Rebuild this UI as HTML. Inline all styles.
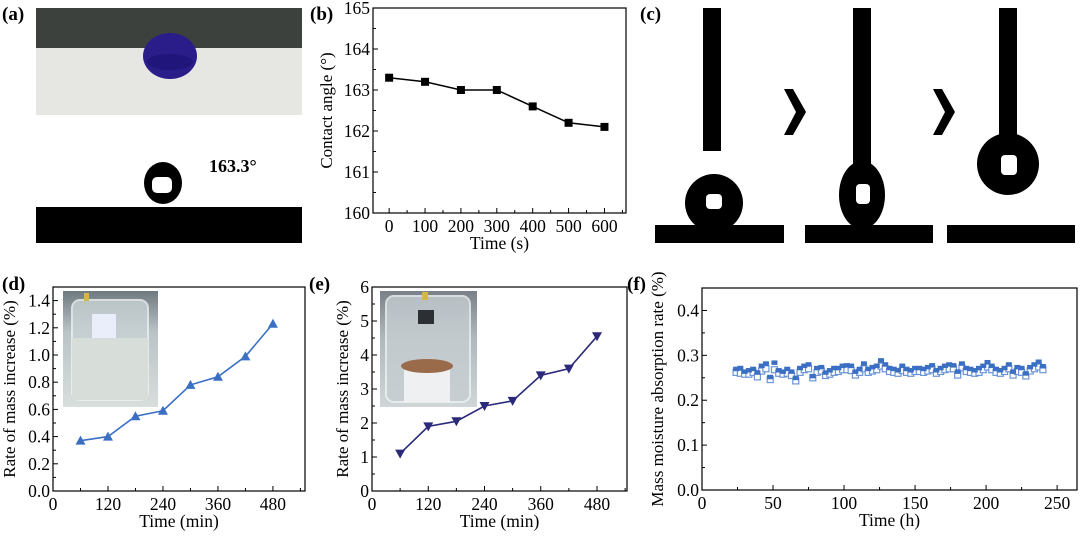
<!DOCTYPE html>
<html><head><meta charset="utf-8"><style>
html,body{margin:0;padding:0;background:#fff;}
body{width:1080px;height:536px;position:relative;overflow:hidden;font-family:"Liberation Serif",serif;}
svg{position:absolute;left:0;top:0;}
</style></head><body>
<svg id="fig" width="1080" height="536" viewBox="0 0 1080 536" xmlns="http://www.w3.org/2000/svg" font-family="Liberation Serif, serif">
  <defs>
    <linearGradient id="beakerD" x1="0" y1="0" x2="0" y2="1">
      <stop offset="0" stop-color="#6f7a80"/><stop offset="0.35" stop-color="#b9c3c6"/><stop offset="1" stop-color="#d8dedc"/>
    </linearGradient>
    <linearGradient id="beakerE" x1="0" y1="0" x2="0" y2="1">
      <stop offset="0" stop-color="#7a8088"/><stop offset="0.4" stop-color="#aeb8bd"/><stop offset="1" stop-color="#d0d6d8"/>
    </linearGradient>
  </defs>
  <g>
    <text x="2" y="20" font-size="19" font-weight="bold">(a)</text>
    <rect x="36" y="8" width="266" height="107" fill="#e6e6e3"/>
    <rect x="36" y="8" width="266" height="40" fill="#3d413e"/>
    <ellipse cx="170" cy="56" rx="27" ry="23" fill="#2a1d8a"/>
    <ellipse cx="170" cy="62" rx="23" ry="8" fill="#1b1070" opacity="0.6"/>
    <rect x="36" y="207" width="266" height="36" fill="#000"/>
    <ellipse cx="163" cy="183" rx="19" ry="21" fill="#000"/>
    <rect x="152" y="177" width="20" height="16" rx="5" fill="#fff"/>
    <text x="209" y="172" font-size="18" font-weight="bold">163.3°</text>
  </g>
  <g>
    <text x="640" y="20" font-size="19" font-weight="bold">(c)</text>
    <rect x="703" y="8" width="18" height="143" fill="#000"/>
    <ellipse cx="714" cy="203" rx="29" ry="29" fill="#000"/>
    <rect x="706" y="194" width="16" height="15" rx="4" fill="#fff"/>
    <rect x="655" y="225" width="129" height="18" fill="#000"/>
    <polygon points="784,89 793,89 806,112 793,135 784,135 796,112" fill="#000"/>
    <rect x="853" y="8" width="18" height="160" fill="#000"/>
    <ellipse cx="862" cy="195" rx="23" ry="34" fill="#000"/>
    <rect x="856" y="184" width="14" height="20" rx="4" fill="#fff"/>
    <rect x="805" y="225" width="128" height="18" fill="#000"/>
    <polygon points="933,89 942,89 955,112 942,135 933,135 945,112" fill="#000"/>
    <rect x="999" y="8" width="18" height="130" fill="#000"/>
    <ellipse cx="1008" cy="164" rx="31" ry="31" fill="#000"/>
    <rect x="1001" y="155" width="16" height="20" rx="4" fill="#fff"/>
    <rect x="947" y="225" width="128" height="18" fill="#000"/>
  </g>
  <text x="2" y="290" font-size="19" font-weight="bold">(d)</text>
  <text x="309" y="290" font-size="19" font-weight="bold">(e)</text>
  <text x="627" y="290" font-size="19" font-weight="bold">(f)</text>
  <text x="310" y="20" font-size="19" font-weight="bold">(b)</text>
</svg>
<script>
// Panel b data
const bTimes = [0, 100, 200, 300, 400, 500, 600];
const bAngles = [163.3, 163.2, 163.0, 163.0, 162.6, 162.2, 162.1];
const bYTicks = [160, 161, 162, 163, 164, 165];
const bXTicks = [0, 100, 200, 300, 400, 500, 600];
// Panel d data
const dTimes = [60, 120, 180, 240, 300, 360, 420, 480];
const dRates = [0.37, 0.40, 0.55, 0.59, 0.78, 0.84, 0.99, 1.23];
const dYTicks = ["0.0", "0.2", "0.4", "0.6", "0.8", "1.0", "1.2", "1.4"];
const dXTicks = [0, 120, 240, 360, 480];
// Panel e data
const eTimes = [60, 120, 180, 240, 300, 360, 420, 480];
const eRates = [1.1, 1.9, 2.05, 2.5, 2.65, 3.4, 3.6, 4.55];
const eYTicks = [0, 1, 2, 3, 4, 5, 6];
const eXTicks = [0, 120, 240, 360, 480];
// Panel f data
const fHours = [24,27,30,33,36,39,42,45,48,51,54,57,60,63,66,69,72,75,78,81,84,87,90,93,96,99,102,105,108,111,114,117,120,123,126,129,132,135,138,141,144,147,150,153,156,159,162,165,168,171,174,177,180,183,186,189,192,195,198,201,204,207,210,213,216,219,222,225,228,231,234,237,240];
const fFilled = [0.268,0.270,0.262,0.265,0.268,0.260,0.275,0.280,0.250,0.282,0.265,0.262,0.268,0.262,0.248,0.270,0.275,0.278,0.252,0.270,0.272,0.260,0.265,0.270,0.270,0.275,0.276,0.275,0.262,0.268,0.280,0.268,0.272,0.275,0.287,0.278,0.270,0.268,0.265,0.275,0.268,0.265,0.270,0.270,0.268,0.272,0.276,0.265,0.270,0.275,0.278,0.276,0.262,0.280,0.270,0.268,0.265,0.270,0.275,0.283,0.275,0.268,0.265,0.270,0.278,0.262,0.272,0.270,0.258,0.272,0.278,0.284,0.274];
const fHollow = [0.262,0.260,0.258,0.258,0.262,0.252,0.265,0.270,0.246,0.268,0.260,0.258,0.260,0.255,0.243,0.262,0.268,0.270,0.250,0.262,0.265,0.255,0.258,0.262,0.264,0.268,0.268,0.266,0.256,0.262,0.270,0.262,0.265,0.268,0.276,0.270,0.264,0.262,0.260,0.266,0.262,0.260,0.264,0.264,0.262,0.265,0.268,0.260,0.264,0.268,0.270,0.270,0.256,0.272,0.264,0.262,0.260,0.262,0.268,0.274,0.268,0.262,0.260,0.264,0.270,0.256,0.264,0.262,0.254,0.265,0.270,0.274,0.268];
const fYTicks = ["0.0", "0.1", "0.2", "0.3", "0.4"];
const fXTicks = [0, 50, 100, 150, 200, 250];

const NS = "http://www.w3.org/2000/svg";
const svg = document.getElementById("fig");
function mk(tag, attrs, parent) {
  const e = document.createElementNS(NS, tag);
  for (const k in attrs) e.setAttribute(k, attrs[k]);
  (parent || svg).appendChild(e);
  return e;
}
function axes(cfg) {
  const g = mk("g", {});
  
  
  const sx = v => cfg.x0 + (v - cfg.xmin) / (cfg.xmax - cfg.xmin) * (cfg.x1 - cfg.x0);
  const sy = v => cfg.y1 - (v - cfg.ymin) / (cfg.ymax - cfg.ymin) * (cfg.y1 - cfg.y0);
  mk("rect", {x: cfg.x0, y: cfg.y0, width: cfg.x1 - cfg.x0, height: cfg.y1 - cfg.y0, fill: "none", stroke: "#000", "stroke-width": 1.2}, g);
  cfg.xt.forEach(t => {
    const v = Number(t), x = sx(v);
    mk("line", {x1: x, x2: x, y1: cfg.y1, y2: cfg.y1 - 5, stroke: "#000"}, g);
    const tx = mk("text", {x: x, y: cfg.y1 + 19, "font-size": 17.5, "text-anchor": "middle"}, g);
    tx.textContent = t;
    
    
    const m = v + cfg.xminor;
    if (m < cfg.xmax) { const xm = sx(m); mk("line", {x1: xm, x2: xm, y1: cfg.y1, y2: cfg.y1 - 3, stroke: "#000"}, g); }
  });
  cfg.yt.forEach(t => {
    const v = Number(t), y = sy(v);
    mk("line", {x1: cfg.x0, x2: cfg.x0 + 5, y1: y, y2: y, stroke: "#000"}, g);
    const ty = mk("text", {x: cfg.x0 - 3, y: y + 6, "font-size": 17.5, "text-anchor": "end"}, g);
    ty.textContent = t;
    
    
    const m = v + cfg.yminor;
    if (m < cfg.ymax) { const ym = sy(m); mk("line", {x1: cfg.x0, x2: cfg.x0 + 3, y1: ym, y2: ym, stroke: "#000"}, g); }
  });
  const xl = mk("text", {x: (cfg.x0 + cfg.x1) / 2, y: cfg.y1 + 36, "font-size": 17.5, "text-anchor": "middle"}, g);
  xl.textContent = cfg.xlabel;
  
  
  const yc = (cfg.y0 + cfg.y1) / 2;
  const yl = mk("text", {x: cfg.ylx, y: yc, "font-size": 17, "text-anchor": "middle", transform: `rotate(-90 ${cfg.ylx} ${yc})`}, g);
  yl.textContent = cfg.ylabel;
  
  
  return {sx, sy, g};
}
function line(ax, xs, ys, color, w) {
  const p = mk("polyline", {points: xs.map((x, i) => ax.sx(x) + "," + ax.sy(ys[i])).join(" "), fill: "none", stroke: color, "stroke-width": w});
  
  
}
function tri(ax, xs, ys, color, down) {
  xs.forEach((x, i) => {
    const cx = ax.sx(x), cy = ax.sy(ys[i]), s = 5;
    const pts = down ? `${cx-s},${cy-s*0.8} ${cx+s},${cy-s*0.8} ${cx},${cy+s}` : `${cx-s},${cy+s*0.8} ${cx+s},${cy+s*0.8} ${cx},${cy-s}`;
    const m = mk("polygon", {points: pts, fill: color});
    
    
  });
}

const axB = axes({name: "panel-b", x0: 373, x1: 626, y0: 8, y1: 213, xmin: -45, xmax: 660, ymin: 160, ymax: 165, xt: bXTicks.map(String), yt: bYTicks.map(String), xminor: 50, yminor: 0.5, xlabel: "Time (s)", ylabel: "Contact angle (°)", ylx: 332});
line(axB, bTimes, bAngles, "#000", 1.5);
bTimes.forEach((t, i) => {
  const r = mk("rect", {x: axB.sx(t) - 4, y: axB.sy(bAngles[i]) - 4, width: 8, height: 8, fill: "#000"});
  
  
});

const axD = axes({name: "panel-d", x0: 53, x1: 305, y0: 287, y1: 491, xmin: 0, xmax: 550, ymin: 0, ymax: 1.5, xt: dXTicks.map(String), yt: dYTicks, xminor: 60, yminor: 0.1, xlabel: "Time (min)", ylabel: "Rate of mass increase (%)", ylx: 15});
line(axD, dTimes, dRates, "#3a6fc4", 1.6);
tri(axD, dTimes, dRates, "#3a6fc4", false);

const axE = axes({name: "panel-e", x0: 372, x1: 627, y0: 287, y1: 491, xmin: 0, xmax: 544, ymin: 0, ymax: 6, xt: eXTicks.map(String), yt: eYTicks.map(String), xminor: 60, yminor: 0.5, xlabel: "Time (min)", ylabel: "Rate of mass increase (%)", ylx: 348});
line(axE, eTimes, eRates, "#2b2a7a", 1.6);
tri(axE, eTimes, eRates, "#2b2a7a", true);

const axF = axes({name: "panel-f", x0: 702, x1: 1077, y0: 288, y1: 490, xmin: 0, xmax: 264, ymin: 0, ymax: 0.45, xt: fXTicks.map(String), yt: fYTicks, xminor: 25, yminor: 0.05, xlabel: "Time (h)", ylabel: "Mass moisture absorption rate (%)", ylx: 663});
fHours.forEach((h, i) => {
  const a = mk("rect", {x: axF.sx(h) - 3, y: axF.sy(fHollow[i]) - 3, width: 6, height: 6, fill: "#fff", stroke: "#6b95d6", "stroke-width": 1.2});
  
  
});
fHours.forEach((h, i) => {
  const b = mk("rect", {x: axF.sx(h) - 3, y: axF.sy(fFilled[i]) - 3, width: 6, height: 4.5, fill: "#3a6fc4"});
  
  
});

function insetD() {
  const g = mk("g", {});
  
  
  mk("rect", {x: 63, y: 291, width: 95, height: 116, fill: "url(#beakerD)"}, g);
  mk("rect", {x: 72, y: 300, width: 76, height: 100, rx: 8, fill: "#c9d2d4", stroke: "#eef2f2", "stroke-width": 2, opacity: 0.8}, g);
  mk("rect", {x: 72, y: 338, width: 76, height: 62, fill: "#d7ddd9"}, g);
  mk("rect", {x: 92, y: 314, width: 24, height: 24, fill: "#eaeefa"}, g);
  mk("rect", {x: 84, y: 293, width: 5, height: 8, fill: "#d6b64a"}, g);
}
function insetE() {
  const g = mk("g", {});
  
  
  mk("rect", {x: 380, y: 291, width: 97, height: 116, fill: "url(#beakerE)"}, g);
  mk("rect", {x: 386, y: 296, width: 84, height: 106, rx: 8, fill: "#c7ced2", stroke: "#eef2f2", "stroke-width": 2, opacity: 0.8}, g);
  mk("rect", {x: 404, y: 370, width: 46, height: 32, fill: "#eef0f2"}, g);
  mk("ellipse", {cx: 427, cy: 366, rx: 26, ry: 7, fill: "#9a6b4a"}, g);
  mk("rect", {x: 422, y: 292, width: 6, height: 8, fill: "#d6b64a"}, g);
  mk("rect", {x: 418, y: 310, width: 16, height: 14, fill: "#2c2f33"}, g);
}
insetD();
insetE();
</script>
</body></html>
